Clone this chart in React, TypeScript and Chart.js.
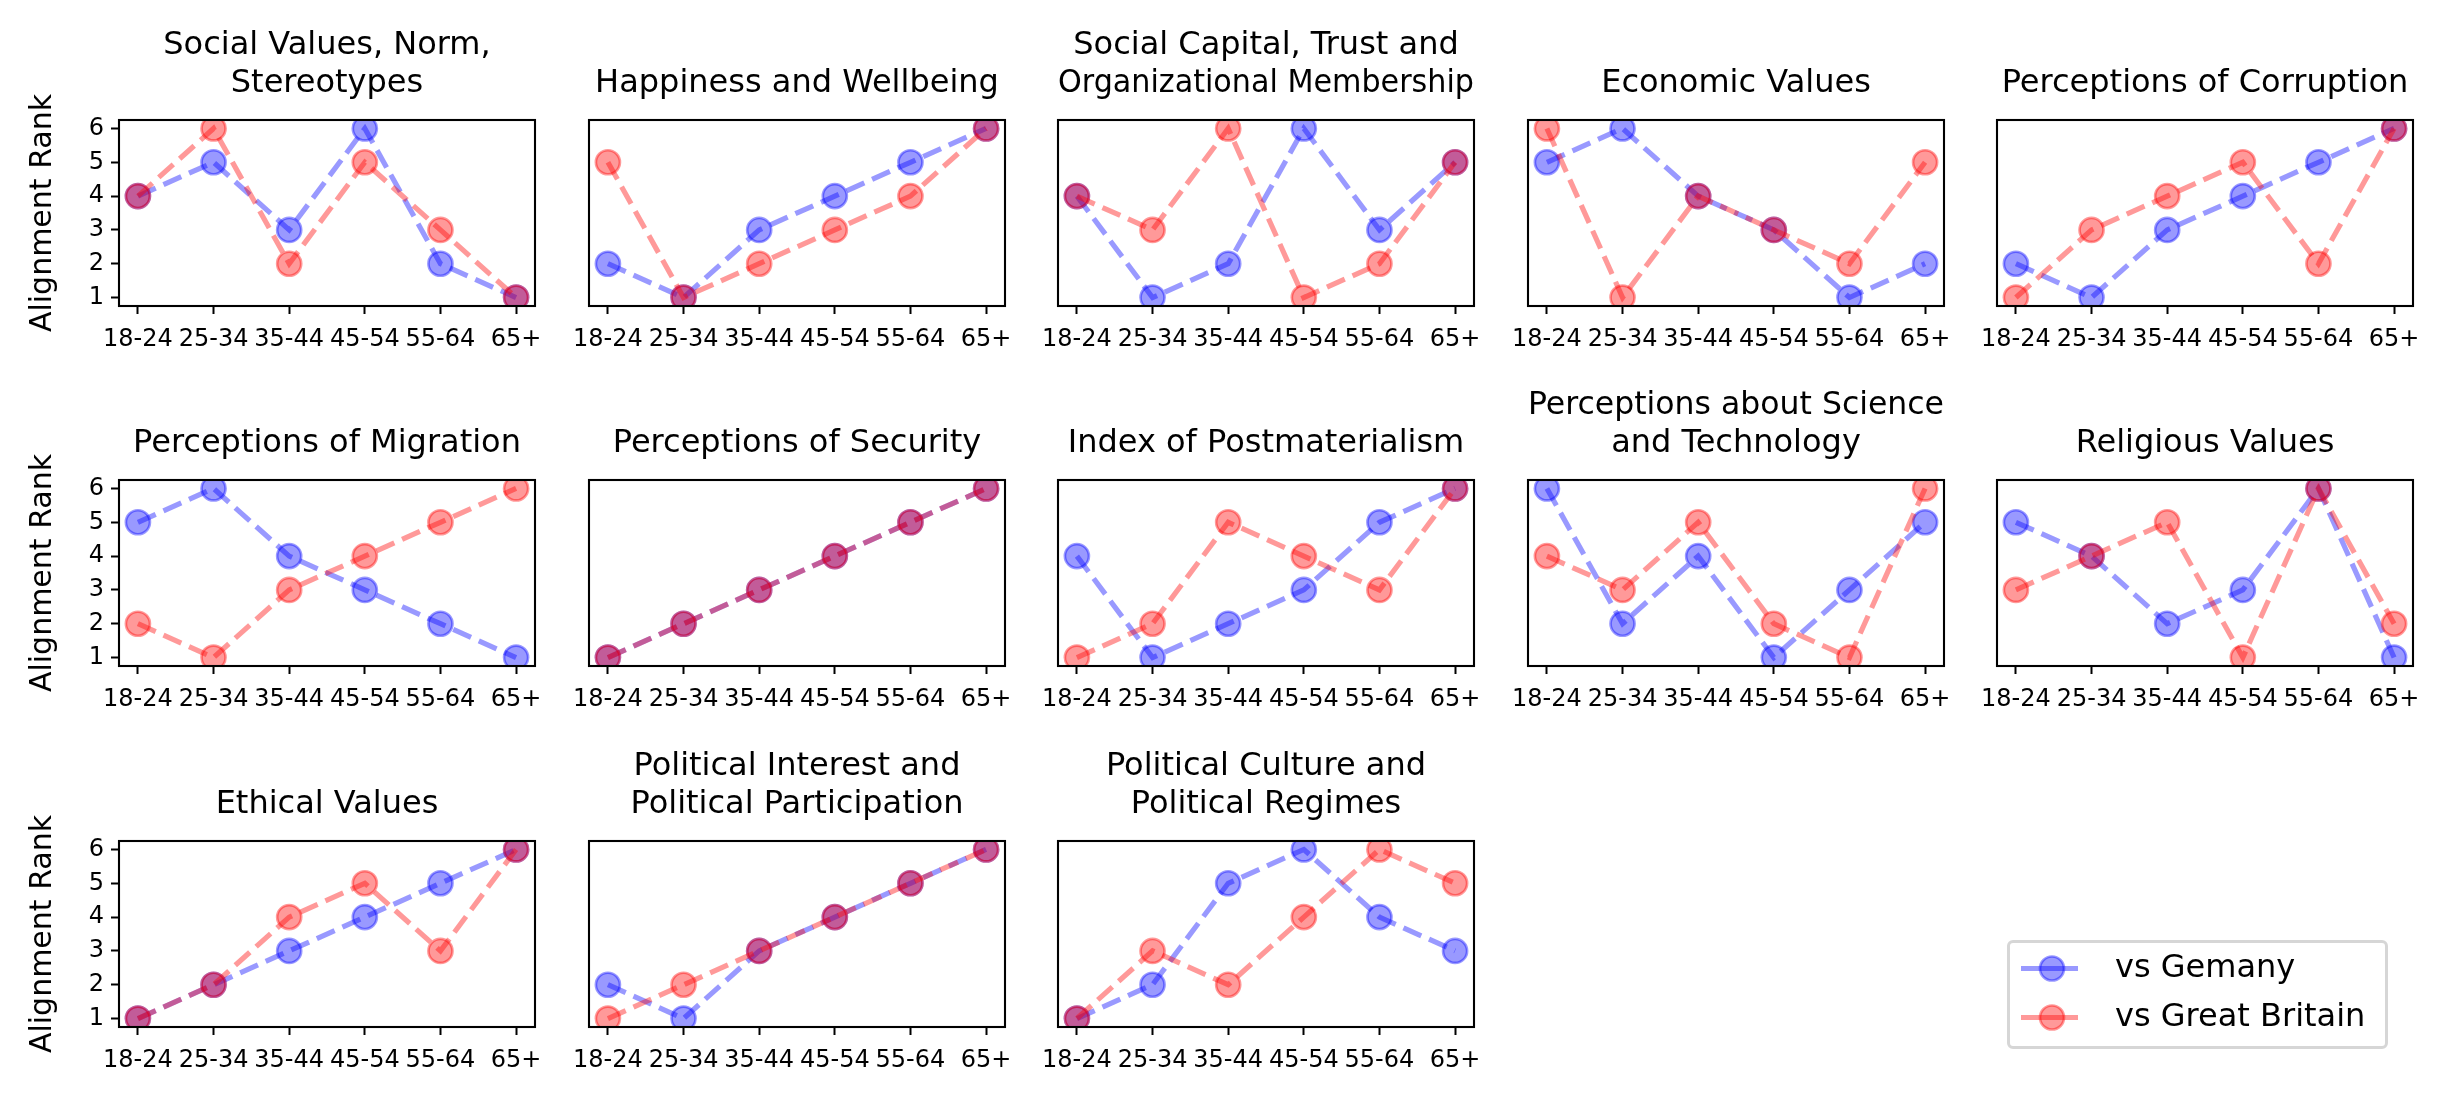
import { useEffect, useRef } from 'react';
import { Chart, registerables } from 'chart.js';

Chart.register(...registerables);

// ---- data ----
const ageGroups = ['18-24', '25-34', '35-44', '45-54', '55-64', '65+'];
const rankTicks = [1, 2, 3, 4, 5, 6];
const seriesLabels = ['vs Gemany', 'vs Great Britain'];

const panelTitles = [
  ['Social Values, Norm,', 'Stereotypes'],
  ['Happiness and Wellbeing'],
  ['Social Capital, Trust and', 'Organizational Membership'],
  ['Economic Values'],
  ['Perceptions of Corruption'],
  ['Perceptions of Migration'],
  ['Perceptions of Security'],
  ['Index of Postmaterialism'],
  ['Perceptions about Science', 'and Technology'],
  ['Religious Values'],
  ['Ethical Values'],
  ['Political Interest and', 'Political Participation'],
  ['Political Culture and', 'Political Regimes'],
];

const vsGermany = [
  [4, 5, 3, 6, 2, 1],
  [2, 1, 3, 4, 5, 6],
  [4, 1, 2, 6, 3, 5],
  [5, 6, 4, 3, 1, 2],
  [2, 1, 3, 4, 5, 6],
  [5, 6, 4, 3, 2, 1],
  [1, 2, 3, 4, 5, 6],
  [4, 1, 2, 3, 5, 6],
  [6, 2, 4, 1, 3, 5],
  [5, 4, 2, 3, 6, 1],
  [1, 2, 3, 4, 5, 6],
  [2, 1, 3, 4, 5, 6],
  [1, 2, 5, 6, 4, 3],
];

const vsGreatBritain = [
  [4, 6, 2, 5, 3, 1],
  [5, 1, 2, 3, 4, 6],
  [4, 3, 6, 1, 2, 5],
  [6, 1, 4, 3, 2, 5],
  [1, 3, 4, 5, 2, 6],
  [2, 1, 3, 4, 5, 6],
  [1, 2, 3, 4, 5, 6],
  [1, 2, 5, 4, 3, 6],
  [4, 3, 5, 2, 1, 6],
  [3, 4, 5, 1, 6, 2],
  [1, 2, 4, 5, 3, 6],
  [1, 2, 3, 4, 5, 6],
  [1, 3, 2, 4, 6, 5],
];

// ---- look ----
const FONT = 'DejaVu Sans';
const BLUE = 'rgba(0, 0, 255, 0.4)';
const RED = 'rgba(255, 0, 0, 0.4)';
const seriesColors = [BLUE, RED];
const LINE_W = 5.2;
const POINT_R = 12;
const POINT_BORDER = 2.7;

const Y_AXIS_W = 119;
const X_AXIS_H = 54;
const TITLE_BLOCK = 120;
const PLOT_W = 416;
const PLOT_H = 186;
const RIGHT_PAD = 36;
const CANVAS_W = Y_AXIS_W + PLOT_W + RIGHT_PAD;
const CANVAS_H = TITLE_BLOCK + PLOT_H + X_AXIS_H;
const rowTops = [120, 480, 841];

function seriesStyle(color: string) {
  return {
    borderColor: color,
    backgroundColor: color,
    borderWidth: LINE_W,
    borderDash: [19.5, 8.5],
    pointRadius: POINT_R,
    pointHoverRadius: POINT_R,
    pointBackgroundColor: color,
    pointBorderColor: color,
    pointBorderWidth: POINT_BORDER,
    tension: 0,
    clip: 0,
  };
}

const axesFrame = {
  id: 'axesFrame',
  afterDatasetsDraw(chart: any) {
    const { ctx, chartArea } = chart;
    ctx.save();
    ctx.strokeStyle = '#000';
    ctx.lineWidth = 2.1;
    ctx.strokeRect(chartArea.left, chartArea.top, chartArea.width, chartArea.height);
    ctx.restore();
  },
};

function Panel({ index }: { index: number }) {
  const canvasRef = useRef<HTMLCanvasElement>(null);
  const col = index % 5;
  const row = Math.floor(index / 5);
  const left = Math.round(119 + col * 469.5) - Y_AXIS_W;
  const top = rowTops[row] - TITLE_BLOCK;

  useEffect(() => {
    if (!canvasRef.current) return;
    const firstCol = col === 0;
    const lines = panelTitles[index].length;
    const chart = new Chart(canvasRef.current, {
      type: 'line',
      data: {
        datasets: [
          {
            label: seriesLabels[0],
            data: vsGermany[index].map((v, i) => ({ x: i, y: v })),
            order: 1,
            ...seriesStyle(BLUE),
          },
          {
            label: seriesLabels[1],
            data: vsGreatBritain[index].map((v, i) => ({ x: i, y: v })),
            order: 0,
            ...seriesStyle(RED),
          },
        ],
      },
      options: {
        responsive: false,
        animation: false,
        devicePixelRatio: 1,
        events: [],
        layout: { padding: { right: RIGHT_PAD } },
        plugins: {
          legend: { display: false },
          tooltip: { enabled: false },
          title: {
            display: true,
            text: panelTitles[index],
            fullSize: false,
            color: '#000',
            font: { family: FONT, size: 32, weight: 'normal', lineHeight: 1.2 },
            padding: { top: TITLE_BLOCK - 17 - lines * 38.4, bottom: 17 },
          },
        },
        scales: {
          x: {
            type: 'linear',
            min: -0.25,
            max: 5.25,
            afterBuildTicks: (scale: any) => {
              scale.ticks = ageGroups.map((_, i) => ({ value: i }));
            },
            afterFit: (scale: any) => {
              scale.height = X_AXIS_H;
            },
            ticks: {
              callback: (_v: any, i: number) => ageGroups[i],
              autoSkip: false,
              maxRotation: 0,
              minRotation: 0,
              padding: 11,
              color: '#000',
              font: { family: FONT, size: 24 },
            },
            grid: {
              drawOnChartArea: false,
              tickLength: 8,
              tickWidth: 2,
              tickColor: '#000',
            },
            border: { display: false },
          },
          y: {
            type: 'linear',
            min: 0.75,
            max: 6.25,
            afterBuildTicks: (scale: any) => {
              scale.ticks = rankTicks.map((v) => ({ value: v }));
            },
            afterFit: (scale: any) => {
              scale.width = Y_AXIS_W;
            },
            ticks: {
              display: firstCol,
              padding: 7,
              color: '#000',
              font: { family: FONT, size: 24 },
            },
            grid: {
              display: firstCol,
              drawOnChartArea: false,
              tickLength: 8,
              tickWidth: 2,
              tickColor: '#000',
            },
            border: { display: false },
            title: {
              display: firstCol,
              text: 'Alignment Rank',
              color: '#000',
              font: { family: FONT, size: 30, lineHeight: 1.2 },
              padding: { top: 25, bottom: 0 },
            },
          },
        },
      },
      plugins: [axesFrame],
    } as any);
    return () => chart.destroy();
  }, [index, col]);

  return (
    <canvas
      ref={canvasRef}
      width={CANVAS_W}
      height={CANVAS_H}
      style={{ position: 'absolute', left, top, width: CANVAS_W, height: CANVAS_H }}
    />
  );
}

// draws a line + marker sample in front of each legend label
const legendHandles = {
  id: 'legendHandles',
  afterDraw(chart: any) {
    const legend = chart.legend;
    if (!legend) return;
    const { ctx } = chart;
    legend.legendHitBoxes.forEach((box: any, i: number) => {
      const color = seriesColors[legend.legendItems[i].datasetIndex];
      const cy = box.top + box.height / 2;
      const cx = box.left + 31;
      ctx.save();
      ctx.strokeStyle = color;
      ctx.lineWidth = LINE_W;
      ctx.beginPath();
      ctx.moveTo(box.left, cy);
      ctx.lineTo(box.left + 57, cy);
      ctx.stroke();
      ctx.beginPath();
      ctx.arc(cx, cy, POINT_R, 0, Math.PI * 2);
      ctx.fillStyle = color;
      ctx.fill();
      ctx.lineWidth = POINT_BORDER;
      ctx.stroke();
      ctx.restore();
    });
  },
};

const LEGEND_LEFT = 2007;
const LEGEND_TOP = 940;
const LEGEND_W = 381;
const LEGEND_H = 109;

function Legend() {
  const canvasRef = useRef<HTMLCanvasElement>(null);

  useEffect(() => {
    if (!canvasRef.current) return;
    const chart = new Chart(canvasRef.current, {
      type: 'line',
      data: {
        datasets: [
          { label: seriesLabels[0], data: [], ...seriesStyle(BLUE) },
          { label: seriesLabels[1], data: [], ...seriesStyle(RED) },
        ],
      },
      options: {
        responsive: false,
        animation: false,
        devicePixelRatio: 1,
        events: [],
        scales: { x: { display: false }, y: { display: false } },
        plugins: {
          tooltip: { enabled: false },
          legend: {
            position: 'chartArea',
            align: 'center',
            labels: {
              boxWidth: 78,
              boxHeight: 35,
              padding: 14,
              color: '#000',
              font: { family: FONT, size: 32 },
              generateLabels: (c: any) =>
                Chart.defaults.plugins.legend.labels.generateLabels(c).map((item: any) => ({
                  ...item,
                  fillStyle: 'rgba(0,0,0,0)',
                  strokeStyle: 'rgba(0,0,0,0)',
                  lineWidth: 0,
                })),
            },
          },
        },
      },
      plugins: [legendHandles],
    } as any);
    return () => chart.destroy();
  }, []);

  return (
    <>
      <div
        style={{
          position: 'absolute',
          left: LEGEND_LEFT,
          top: LEGEND_TOP,
          width: LEGEND_W,
          height: LEGEND_H,
          boxSizing: 'border-box',
          border: '3px solid #d6d6d6',
          borderRadius: 6,
          background: 'rgba(255,255,255,0.8)',
        }}
      />
      <canvas
        ref={canvasRef}
        width={LEGEND_W}
        height={150}
        style={{ position: 'absolute', left: LEGEND_LEFT, top: 918, width: LEGEND_W, height: 150 }}
      />
    </>
  );
}

export default function App() {
  return (
    <div style={{ position: 'absolute', left: 0, top: 0, width: 2450, height: 1104, background: '#fff' }}>
      {panelTitles.map((_, i) => (
        <Panel key={i} index={i} />
      ))}
      <Legend />
    </div>
  );
}
